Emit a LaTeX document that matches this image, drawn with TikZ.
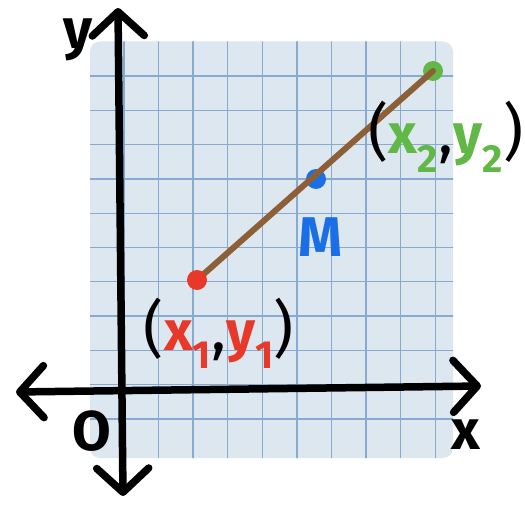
\documentclass[tikz,border=0pt]{standalone}
\usepackage{fontspec}
\setmainfont{Fira Sans}
\usetikzlibrary{arrows.meta}
\definecolor{GPaper}{HTML}{DDE7EF}
\definecolor{GLine}{HTML}{86AAD0}
\definecolor{GRed}{HTML}{E8382A}
\definecolor{GGreen}{HTML}{62B846}
\definecolor{GBlue}{HTML}{1A6FE6}
\definecolor{GBrown}{HTML}{8C5F36}
\newcommand{\bpar}[1]{{\color{black}\fontsize{62}{62}\mdseries#1}}
\tikzset{
  axis/.style={line width=7.5pt,line cap=round,line join=round,
    {Straight Barb[length=24pt,width=52pt,round]}-{Straight Barb[length=24pt,width=52pt,round]}},
  dot/.style={circle,fill=#1,inner sep=0pt,minimum size=20pt},
  hand/.style={font=\fontsize{56}{56}\selectfont\bfseries,inner sep=0pt},
}
\begin{document}
\begin{tikzpicture}[x=1pt,y=-1pt]
\path[use as bounding box] (0,0) rectangle (525,511);
\fill[GPaper,rounded corners=10pt] (90,41.5) rectangle (453,458);
\begin{scope}
\clip[rounded corners=10pt] (90,41.5) rectangle (453,458);
\foreach \k in {0,...,10}
  \draw[GLine,line width=1.3pt] ({89.3+34.6*\k},40) -- ++(0,420);
\foreach \k in {1,...,11}
  \draw[GLine,line width=1.3pt] (88,{41.7+34.3*\k}) -- ++(367,0);
\end{scope}
% axes
\coordinate (ytop) at (118,8);
\coordinate (ybot) at (123,496);
\coordinate (xleft) at (16,392);
\coordinate (xright) at (481,386);
\draw[axis] (ybot) -- (ytop);
\draw[axis] (xleft) -- (xright);
% points and segment
\node[dot=GGreen] (P2) at (433,71) {};
\node[dot=GBlue] (M) at (316,179) {};
\coordinate (p1) at (197,280);
\draw[GBrown,line width=6pt,line cap=round] (p1) -- (P2.center);
\node[dot=GRed] (P1) at (p1) {};
% labels
\node[hand,GRed] (L1) at (219,333) {\bpar{(}x\textsubscript{1}\bpar{,}y\textsubscript{1}\bpar{)}};
\node[hand,GGreen] (L2) at (446,137) {\bpar{(}x\textsubscript{2}\bpar{,}y\textsubscript{2}\bpar{)}};
\node[hand,GBlue] (LM) at (321,237) {M};
\node[hand] (LO) at (92,431) {O};
\node[hand] (Lx) at (466,435) {x};
\node[hand] (Ly) at (78,40) {y};
\end{tikzpicture}
\end{document}
